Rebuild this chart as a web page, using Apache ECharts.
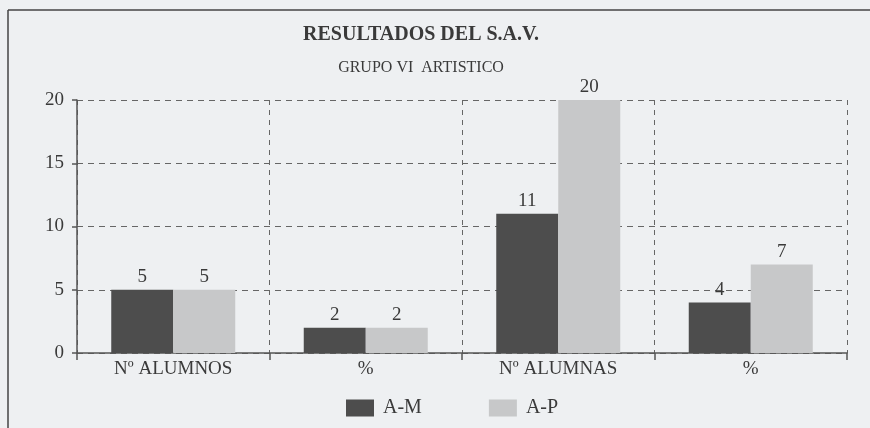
<!DOCTYPE html>
<html>
<head>
<meta charset="utf-8">
<script src="https://cdn.jsdelivr.net/npm/echarts@6/dist/echarts.min.js"></script>
<style>
  html, body { margin: 0; padding: 0; background: #eef0f2; }
  #chart { width: 870px; height: 428px; }
</style>
</head>
<body>
<div id="chart"></div>
<script>
// datos
const categorias = ['Nº ALUMNOS', '%', 'Nº ALUMNAS', '%']
const serieAM = [5, 2, 11, 4]
const serieAP = [5, 2, 20, 7]
const nombres = ['A-M', 'A-P']

const serif = 'Liberation Serif'
const texto = '#3a3a3a'
const linea = '#555'

const chart = echarts.init(document.getElementById('chart'))

const etiqueta = {
  show: true,
  position: 'top',
  distance: 3,
  fontFamily: serif,
  fontSize: 19,
  color: texto
}

const options = {
  backgroundColor: '#eef0f2',
  animation: false,
  title: {
    text: 'RESULTADOS DEL S.A.V.',
    subtext: 'GRUPO VI  ARTISTICO',
    left: 421,
    top: 23,
    textAlign: 'center',
    padding: 0,
    itemGap: 12,
    textStyle: { fontFamily: serif, fontSize: 20, fontWeight: 'bold', color: texto, lineHeight: 24 },
    subtextStyle: { fontFamily: serif, fontSize: 16, color: texto, lineHeight: 18 }
  },
  legend: {
    data: nombres,
    left: 341,
    top: 393,
    icon: 'rect',
    itemWidth: 28,
    itemHeight: 17,
    itemGap: 67,
    textStyle: { fontFamily: serif, fontSize: 20, color: texto, padding: [0, 0, 0, 4] }
  },
  grid: {
    left: 77,
    right: 23,
    top: 100,
    bottom: 75,
    containLabel: false,
    outerBoundsMode: 'none'
  },
  xAxis: {
    type: 'category',
    data: categorias,
    axisLine: { lineStyle: { color: linea, width: 1.5 } },
    axisTick: { show: true, length: 7, lineStyle: { color: linea, width: 1.5 } },
    axisLabel: { margin: 7, fontFamily: serif, fontSize: 19, color: texto },
    splitLine: { show: true, lineStyle: { color: '#666', type: [5, 5], width: 1 } }
  },
  yAxis: {
    type: 'value',
    min: 0,
    max: 20,
    interval: 5,
    axisLine: { show: true, lineStyle: { color: linea, width: 1.5 } },
    axisTick: { show: true, length: 5, lineStyle: { color: linea, width: 1.5 } },
    axisLabel: { margin: 13, fontFamily: serif, fontSize: 19, color: texto },
    splitLine: { show: true, lineStyle: { color: '#666', type: [6, 5], width: 1 } }
  },
  graphic: [
    {
      type: 'line',
      shape: { x1: 8, y1: 10, x2: 870, y2: 10 },
      style: { stroke: '#444', lineWidth: 1.5 },
      silent: true
    },
    {
      type: 'line',
      shape: { x1: 8, y1: 10, x2: 8, y2: 428 },
      style: { stroke: '#444', lineWidth: 1.5 },
      silent: true
    }
  ],
  series: [
    {
      name: nombres[0],
      type: 'bar',
      data: serieAM,
      barWidth: 62,
      barGap: '0%',
      itemStyle: { color: '#4d4d4d' },
      label: etiqueta
    },
    {
      name: nombres[1],
      type: 'bar',
      data: serieAP,
      barWidth: 62,
      barGap: '0%',
      itemStyle: { color: '#c7c8c9' },
      label: etiqueta
    }
  ]
}

chart.setOption(options)
window.addEventListener('resize', chart.resize)
</script>
</body>
</html>
